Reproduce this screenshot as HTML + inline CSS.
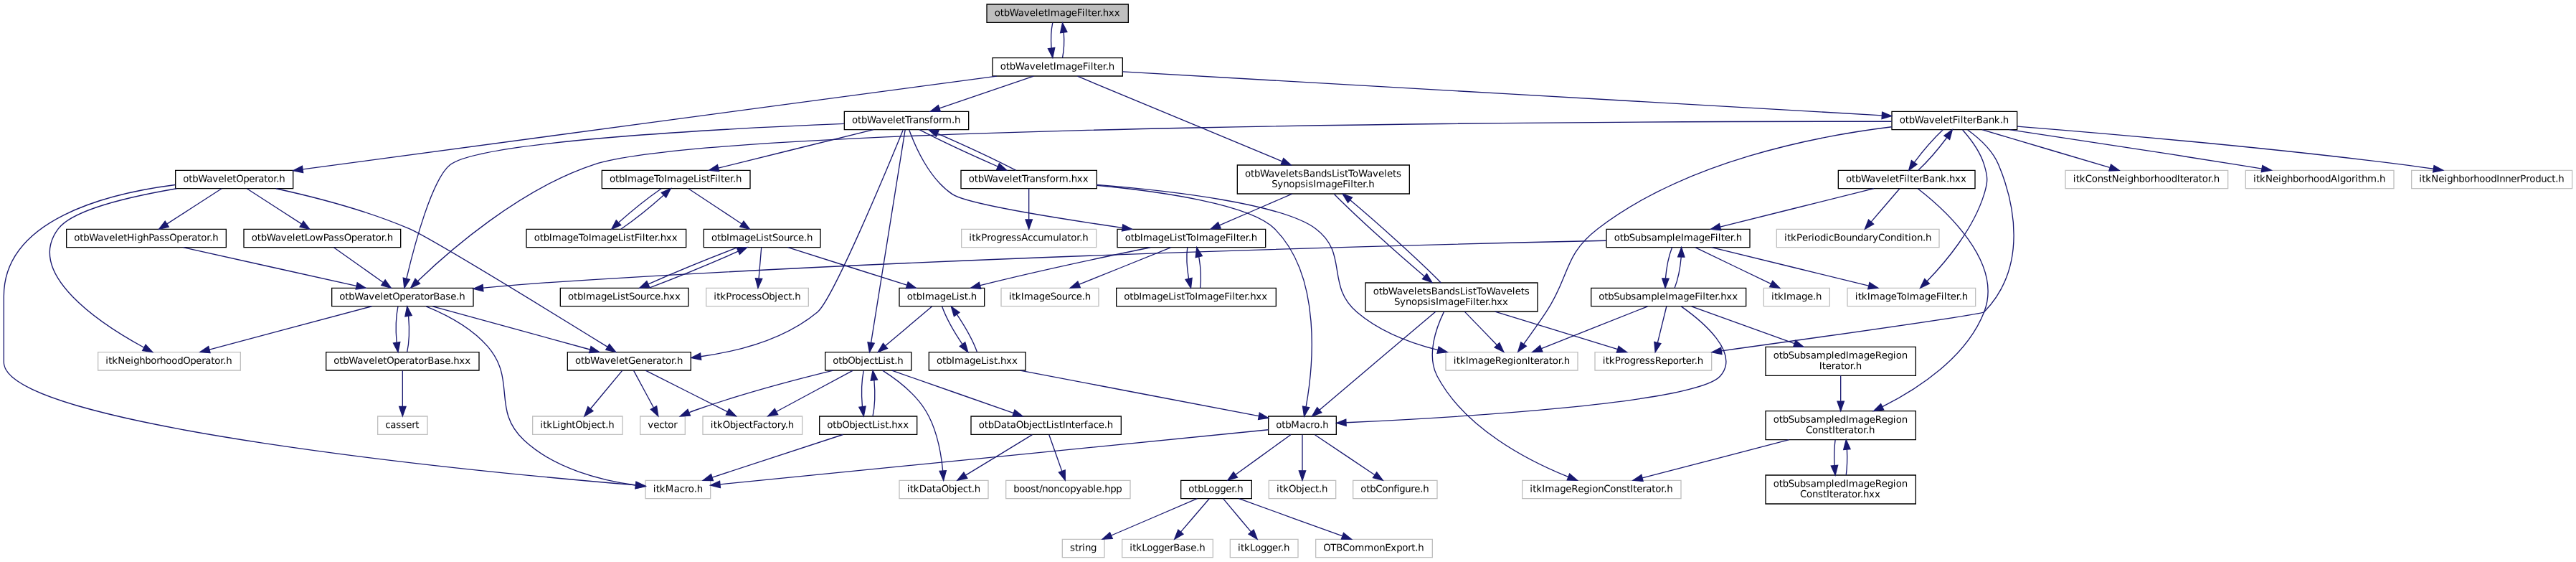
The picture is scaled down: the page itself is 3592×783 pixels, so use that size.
<!DOCTYPE html>
<html lang="en">
<head>
<meta charset="utf-8">
<title>otbWaveletImageFilter.hxx include dependency graph</title>
<style>
html,body{margin:0;padding:0;background:#fff;}
body{width:3592px;height:783px;overflow:hidden;}
svg{display:block;}
svg text{font-family:"DejaVu Sans","Liberation Sans",sans-serif;font-size:10px;fill:#000;text-rendering:geometricPrecision;}
svg{will-change:transform;}
</style>
</head>
<body>
<svg width="3592" height="783" viewBox="0 0 2694 587.25">
<g id="graph0" class="graph" transform="scale(1 1) rotate(0) translate(4 583)">
<polygon fill="white" stroke="none" points="-4,4 -4,-583 2690,-583 2690,4 -4,4"/>
<g id="node1" class="node">
<polygon fill="#bfbfbf" stroke="black" points="1028,-559.5 1028,-578.5 1176,-578.5 1176,-559.5 1028,-559.5"/>
<text transform="rotate(0.03 1098.62 -566.35)" y="-566.35" x="1036 1042 1045.75 1051.75 1060.75 1066.75 1072.75 1078.75 1081.75 1087.75 1091.5 1094.5 1104.25 1110.25 1116.25 1122.25 1127.5 1130.5 1133.5 1137.25 1143.25 1146.25 1149.25 1155.25 1161.25">otbWaveletImageFilter.hxx</text>
</g>
<g id="node2" class="node">
<polygon fill="white" stroke="black" points="1034,-503.5 1034,-522.5 1170,-522.5 1170,-503.5 1034,-503.5"/>
<text transform="rotate(0.03 1098.62 -510.35)" y="-510.35" x="1042 1048 1051.75 1057.75 1066.75 1072.75 1078.75 1084.75 1087.75 1093.75 1097.5 1100.5 1110.25 1116.25 1122.25 1128.25 1133.5 1136.5 1139.5 1143.25 1149.25 1152.25 1155.25">otbWaveletImageFilter.h</text>
</g>
<g id="edge1" class="edge">
<path fill="none" stroke="midnightblue" d="M1096.83,-559.08C1095.32,-551.93 1094.89,-541.64 1095.54,-532.69"/>
<polygon fill="midnightblue" stroke="midnightblue" points="1099.02,-533.13 1096.87,-522.75 1092.08,-532.2 1099.02,-533.13"/>
</g>
<g id="edge96" class="edge">
<path fill="none" stroke="midnightblue" d="M1107.13,-522.75C1108.66,-529.86 1109.1,-540.14 1108.47,-549.1"/>
<polygon fill="midnightblue" stroke="midnightblue" points="1104.99,-548.71 1107.17,-559.08 1111.93,-549.62 1104.99,-548.71"/>
</g>
<g id="node3" class="node">
<polygon fill="white" stroke="black" points="179.5,-386 179.5,-405 302.5,-405 302.5,-386 179.5,-386"/>
<text transform="rotate(0.03 237.75 -392.85)" y="-392.85" x="187.5 193.5 197.25 203.25 212.25 218.25 224.25 230.25 233.25 239.25 243 250.5 256.5 262.5 266.25 272.25 276 282 285 288">otbWaveletOperator.h</text>
</g>
<g id="edge2" class="edge">
<path fill="none" stroke="midnightblue" d="M1038.34,-503.46C881.53,-482.43 477.48,-428.22 312.63,-406.11"/>
<polygon fill="midnightblue" stroke="midnightblue" points="312.97,-402.62 302.6,-404.76 312.04,-409.56 312.97,-402.62"/>
</g>
<g id="node15" class="node">
<polygon fill="white" stroke="black" points="1974.5,-447.5 1974.5,-466.5 2105.5,-466.5 2105.5,-447.5 1974.5,-447.5"/>
<text transform="rotate(0.03 2036.5 -454.35)" y="-454.35" x="1982.5 1988.5 1992.25 1998.25 2007.25 2013.25 2019.25 2025.25 2028.25 2034.25 2038 2043.25 2046.25 2049.25 2053 2059 2062.75 2069.5 2075.5 2081.5 2087.5 2090.5">otbWaveletFilterBank.h</text>
</g>
<g id="edge19" class="edge">
<path fill="none" stroke="midnightblue" d="M1170.21,-508.07C1340.91,-498.25 1785.57,-472.65 1964.14,-462.37"/>
<polygon fill="midnightblue" stroke="midnightblue" points="1964.45,-465.86 1974.24,-461.79 1964.05,-458.87 1964.45,-465.86"/>
</g>
<g id="node39" class="node">
<polygon fill="white" stroke="black" points="879,-447.5 879,-466.5 1009,-466.5 1009,-447.5 879,-447.5"/>
<text transform="rotate(0.03 940.625 -454.35)" y="-454.35" x="887 893 896.75 902.75 911.75 917.75 923.75 929.75 932.75 938.75 942.5 947 950.75 956.75 962.75 968 971.75 977.75 981.5 991.25 994.25">otbWaveletTransform.h</text>
</g>
<g id="edge53" class="edge">
<path fill="none" stroke="midnightblue" d="M1076.96,-503.44C1050.38,-494.36 1008.19,-479.94 978.48,-469.78"/>
<polygon fill="midnightblue" stroke="midnightblue" points="979.51,-466.44 968.92,-466.52 977.25,-473.06 979.51,-466.44"/>
</g>
<g id="node57" class="node">
<polygon fill="white" stroke="black" points="1290,-380.5 1290,-410.5 1470,-410.5 1470,-380.5 1290,-380.5"/>
<text transform="rotate(0.03 1377.12 -398.35)" y="-398.35" x="1298 1304 1307.75 1313.75 1322.75 1328.75 1334.75 1340.75 1343.75 1349.75 1353.5 1358.75 1365.5 1371.5 1377.5 1383.5 1388.75 1394 1397 1402.25 1406 1410.5 1416.5 1425.5 1431.5 1437.5 1443.5 1446.5 1452.5 1456.25">otbWaveletsBandsListToWavelets</text>
<text transform="rotate(0.03 1376.62 -387.35)" y="-387.35" x="1326 1332 1338 1344 1350 1356 1361.25 1364.25 1369.5 1372.5 1382.25 1388.25 1394.25 1400.25 1405.5 1408.5 1411.5 1415.25 1421.25 1424.25 1427.25">SynopsisImageFilter.h</text>
</g>
<g id="edge88" class="edge">
<path fill="none" stroke="midnightblue" d="M1122.9,-503.32C1168.2,-484.49 1276.27,-439.59 1336.89,-414.41"/>
<polygon fill="midnightblue" stroke="midnightblue" points="1338.3,-417.61 1346.19,-410.55 1335.62,-411.15 1338.3,-417.61"/>
</g>
<g id="node4" class="node">
<polygon fill="white" stroke="#bfbfbf" points="671,-62 671,-81 739,-81 739,-62 671,-62"/>
<text transform="rotate(0.03 701.875 -68.85)" y="-68.85" x="679 682 685.75 691.75 700.75 706.75 712 715.75 721.75 724.75">itkMacro.h</text>
</g>
<g id="edge3" class="edge">
<path fill="none" stroke="midnightblue" d="M179.25,-389.86C107.84,-380.73 0,-353.68 0,-273.5 0,-273.5 0,-273.5 0,-204.5 0,-136.94 506.62,-89.07 660.93,-76.05"/>
<polygon fill="midnightblue" stroke="midnightblue" points="661.32,-79.53 671,-75.21 660.74,-72.55 661.32,-79.53"/>
</g>
<g id="node5" class="node">
<polygon fill="white" stroke="#bfbfbf" points="98.5,-196 98.5,-215 247.5,-215 247.5,-196 98.5,-196"/>
<text transform="rotate(0.03 169.5 -202.85)" y="-202.85" x="106.5 109.5 113.25 119.25 126.75 132.75 135.75 141.75 147.75 153.75 159.75 163.5 169.5 175.5 181.5 187.5 195 201 207 210.75 216.75 220.5 226.5 229.5 232.5">itkNeighborhoodOperator.h</text>
</g>
<g id="edge4" class="edge">
<path fill="none" stroke="midnightblue" d="M180.71,-385.94C133.05,-377.79 72.11,-363.82 57,-344 21.02,-296.82 102.33,-243.94 146.66,-219.8"/>
<polygon fill="midnightblue" stroke="midnightblue" points="148.32,-222.89 155.5,-215.1 145.03,-216.7 148.32,-222.89"/>
</g>
<g id="node6" class="node">
<polygon fill="white" stroke="black" points="589.5,-196 589.5,-215 718.5,-215 718.5,-196 589.5,-196"/>
<text transform="rotate(0.03 650.75 -202.85)" y="-202.85" x="597.5 603.5 607.25 613.25 622.25 628.25 634.25 640.25 643.25 649.25 653 660.5 666.5 672.5 678.5 682.25 688.25 692 698 701 704">otbWaveletGenerator.h</text>
</g>
<g id="edge5" class="edge">
<path fill="none" stroke="midnightblue" d="M284.63,-385.94C322.43,-377.71 378.09,-363.63 424,-344 445.69,-334.73 577.38,-253.84 631.16,-220.63"/>
<polygon fill="midnightblue" stroke="midnightblue" points="633.29,-223.43 639.96,-215.19 629.61,-217.47 633.29,-223.43"/>
</g>
<g id="node10" class="node">
<polygon fill="white" stroke="black" points="251,-324.5 251,-343.5 415,-343.5 415,-324.5 251,-324.5"/>
<text transform="rotate(0.03 329.875 -331.35)" y="-331.35" x="259 265 268.75 274.75 283.75 289.75 295.75 301.75 304.75 310.75 314.5 319.75 325.75 334 339.25 345.25 350.5 355.75 363.25 369.25 375.25 379 385 388.75 394.75 397.75 400.75">otbWaveletLowPassOperator.h</text>
</g>
<g id="edge9" class="edge">
<path fill="none" stroke="midnightblue" d="M254.18,-385.98C269.07,-376.34 293.54,-360.52 311.27,-349.05"/>
<polygon fill="midnightblue" stroke="midnightblue" points="313.35,-351.88 319.84,-343.51 309.55,-346 313.35,-351.88"/>
</g>
<g id="node14" class="node">
<polygon fill="white" stroke="black" points="65.5,-324.5 65.5,-343.5 232.5,-343.5 232.5,-324.5 65.5,-324.5"/>
<text transform="rotate(0.03 145.875 -331.35)" y="-331.35" x="73.5 79.5 83.25 89.25 98.25 104.25 110.25 116.25 119.25 125.25 129 136.5 139.5 145.5 151.5 156.75 162.75 168 173.25 180.75 186.75 192.75 196.5 202.5 206.25 212.25 215.25 218.25">otbWaveletHighPassOperator.h</text>
</g>
<g id="edge17" class="edge">
<path fill="none" stroke="midnightblue" d="M227.82,-385.98C212.93,-376.34 188.46,-360.52 170.73,-349.05"/>
<polygon fill="midnightblue" stroke="midnightblue" points="172.45,-346 162.16,-343.51 168.65,-351.88 172.45,-346"/>
</g>
<g id="node7" class="node">
<polygon fill="white" stroke="#bfbfbf" points="553,-129 553,-148 647,-148 647,-129 553,-129"/>
<text transform="rotate(0.03 596.625 -135.85)" y="-135.85" x="561 564 567.75 573.75 579 582 588 594 597.75 605.25 611.25 614.25 620.25 625.5 629.25 632.25">itkLightObject.h</text>
</g>
<g id="edge6" class="edge">
<path fill="none" stroke="midnightblue" d="M646.72,-195.73C638.3,-185.6 624.25,-168.69 613.75,-156.06"/>
<polygon fill="midnightblue" stroke="midnightblue" points="616.25,-153.58 607.17,-148.13 610.87,-158.06 616.25,-153.58"/>
</g>
<g id="node8" class="node">
<polygon fill="white" stroke="#bfbfbf" points="665.5,-129 665.5,-148 712.5,-148 712.5,-129 665.5,-129"/>
<text transform="rotate(0.03 687 -135.85)" y="-135.85" x="673.5 679.5 685.5 690.75 694.5 700.5">vector</text>
</g>
<g id="edge7" class="edge">
<path fill="none" stroke="midnightblue" d="M658.72,-195.73C664.02,-185.89 672.76,-169.66 679.49,-157.16"/>
<polygon fill="midnightblue" stroke="midnightblue" points="682.7,-158.59 684.35,-148.13 676.53,-155.27 682.7,-158.59"/>
</g>
<g id="node9" class="node">
<polygon fill="white" stroke="#bfbfbf" points="731,-129 731,-148 835,-148 835,-129 731,-129"/>
<text transform="rotate(0.03 779.5 -135.85)" y="-135.85" x="739 742 745.75 751.75 759.25 765.25 768.25 774.25 779.5 783.25 787.75 793.75 799 802.75 808.75 812.5 817 820">itkObjectFactory.h</text>
</g>
<g id="edge8" class="edge">
<path fill="none" stroke="midnightblue" d="M671.13,-195.87C693.01,-184.84 731.09,-165.66 756.67,-152.77"/>
<polygon fill="midnightblue" stroke="midnightblue" points="758.44,-155.79 765.8,-148.17 755.29,-149.54 758.44,-155.79"/>
</g>
<g id="node11" class="node">
<polygon fill="white" stroke="black" points="343,-263 343,-282 491,-282 491,-263 343,-263"/>
<text transform="rotate(0.03 413.625 -269.85)" y="-269.85" x="351 357 360.75 366.75 375.75 381.75 387.75 393.75 396.75 402.75 406.5 414 420 426 429.75 435.75 439.5 445.5 449.25 456 462 467.25 473.25 476.25">otbWaveletOperatorBase.h</text>
</g>
<g id="edge10" class="edge">
<path fill="none" stroke="midnightblue" d="M345.04,-324.48C358.51,-314.93 380.57,-299.31 396.72,-287.87"/>
<polygon fill="midnightblue" stroke="midnightblue" points="398.85,-290.65 404.99,-282.01 394.8,-284.93 398.85,-290.65"/>
</g>
<g id="edge11" class="edge">
<path fill="none" stroke="midnightblue" d="M441.58,-262.91C461.39,-254.86 488.7,-241.03 506,-221 536.53,-185.64 509.9,-154.93 544,-123 575.82,-93.21 625.05,-80.99 660.7,-75.98"/>
<polygon fill="midnightblue" stroke="midnightblue" points="661.34,-79.42 670.83,-74.69 660.47,-72.48 661.34,-79.42"/>
</g>
<g id="edge12" class="edge">
<path fill="none" stroke="midnightblue" d="M384.85,-262.94C341.24,-251.32 263.25,-230.54 215.03,-217.7"/>
<polygon fill="midnightblue" stroke="midnightblue" points="215.78,-214.28 205.22,-215.08 213.98,-221.04 215.78,-214.28"/>
</g>
<g id="edge13" class="edge">
<path fill="none" stroke="midnightblue" d="M448.47,-262.87C490.82,-251.25 566.22,-230.58 612.97,-217.75"/>
<polygon fill="midnightblue" stroke="midnightblue" points="614.06,-221.08 622.78,-215.06 612.21,-214.33 614.06,-221.08"/>
</g>
<g id="node12" class="node">
<polygon fill="white" stroke="black" points="337,-196 337,-215 497,-215 497,-196 337,-196"/>
<text transform="rotate(0.03 413.625 -202.85)" y="-202.85" x="345 351 354.75 360.75 369.75 375.75 381.75 387.75 390.75 396.75 400.5 408 414 420 423.75 429.75 433.5 439.5 443.25 450 456 461.25 467.25 470.25 476.25 482.25">otbWaveletOperatorBase.hxx</text>
</g>
<g id="edge14" class="edge">
<path fill="none" stroke="midnightblue" d="M412.21,-262.73C410.2,-253.18 409.74,-237.62 410.82,-225.28"/>
<polygon fill="midnightblue" stroke="midnightblue" points="414.32,-225.52 412.24,-215.13 407.38,-224.54 414.32,-225.52"/>
</g>
<g id="edge15" class="edge">
<path fill="none" stroke="midnightblue" d="M421.76,-215.13C423.78,-224.62 424.26,-240.17 423.2,-252.54"/>
<polygon fill="midnightblue" stroke="midnightblue" points="419.69,-252.35 421.79,-262.73 426.63,-253.31 419.69,-252.35"/>
</g>
<g id="node13" class="node">
<polygon fill="white" stroke="#bfbfbf" points="391,-129 391,-148 443,-148 443,-129 391,-129"/>
<text transform="rotate(0.03 414.75 -135.85)" y="-135.85" x="399 404.25 410.25 415.5 420.75 426.75 430.5">cassert</text>
</g>
<g id="edge16" class="edge">
<path fill="none" stroke="midnightblue" d="M417,-195.73C417,-186.18 417,-170.62 417,-158.28"/>
<polygon fill="midnightblue" stroke="midnightblue" points="420.5,-158.13 417,-148.13 413.5,-158.13 420.5,-158.13"/>
</g>
<g id="edge18" class="edge">
<path fill="none" stroke="midnightblue" d="M187.4,-324.48C235.16,-313.87 316.74,-295.76 368.7,-284.22"/>
<polygon fill="midnightblue" stroke="midnightblue" points="369.67,-287.59 378.67,-282.01 368.15,-280.76 369.67,-287.59"/>
</g>
<g id="edge26" class="edge">
<path fill="none" stroke="midnightblue" d="M1974.31,-456.09C1711.89,-456.17 746.69,-453.54 617,-411 539.45,-385.56 464.76,-319.91 432.99,-289.45"/>
<polygon fill="midnightblue" stroke="midnightblue" points="435.14,-286.66 425.54,-282.18 430.26,-291.67 435.14,-286.66"/>
</g>
<g id="node16" class="node">
<polygon fill="white" stroke="#bfbfbf" points="1664,-196 1664,-215 1786,-215 1786,-196 1664,-196"/>
<text transform="rotate(0.03 1721.5 -202.85)" y="-202.85" x="1672 1675 1678.75 1684.75 1690.75 1694.5 1700.5 1706.5 1710.25 1716.25 1721.5 1726.75 1733.5 1739.5 1745.5 1751.5 1755.25 1759 1765 1768 1771">itkProgressReporter.h</text>
</g>
<g id="edge20" class="edge">
<path fill="none" stroke="midnightblue" d="M2053.79,-447.19C2064.83,-439.24 2079.5,-426.45 2086,-411 2102.91,-370.81 2116.91,-304.01 2071,-257 2068.6,-254.55 1897.03,-230.37 1796.42,-216.38"/>
<polygon fill="midnightblue" stroke="midnightblue" points="1796.7,-212.89 1786.32,-214.98 1795.74,-219.82 1796.7,-212.89"/>
</g>
<g id="node17" class="node">
<polygon fill="white" stroke="#bfbfbf" points="1928,-263 1928,-282 2062,-282 2062,-263 1928,-263"/>
<text transform="rotate(0.03 1991.88 -269.85)" y="-269.85" x="1936 1939 1942.75 1948.75 1951.75 1961.5 1967.5 1973.5 1979.5 1984 1990 1993 2002.75 2008.75 2014.75 2020.75 2026 2029 2032 2035.75 2041.75 2044.75 2047.75">itkImageToImageFilter.h</text>
</g>
<g id="edge21" class="edge">
<path fill="none" stroke="midnightblue" d="M2048.48,-447.23C2056.05,-438.75 2066.6,-425.13 2071,-411 2075.09,-397.84 2075.05,-393.17 2071,-380 2059.73,-343.33 2030.26,-308.7 2011.5,-289.37"/>
<polygon fill="midnightblue" stroke="midnightblue" points="2013.75,-286.66 2004.2,-282.06 2008.79,-291.61 2013.75,-286.66"/>
</g>
<g id="node18" class="node">
<polygon fill="white" stroke="#bfbfbf" points="2156,-386 2156,-405 2326,-405 2326,-386 2156,-386"/>
<text transform="rotate(0.03 2237.5 -392.85)" y="-392.85" x="2164 2167 2170.75 2176.75 2183.5 2189.5 2195.5 2200.75 2204.5 2212 2218 2221 2227 2233 2239 2245 2248.75 2254.75 2260.75 2266.75 2272.75 2275.75 2279.5 2285.5 2289.25 2295.25 2299 2305 2308 2311">itkConstNeighborhoodIterator.h</text>
</g>
<g id="edge22" class="edge">
<path fill="none" stroke="midnightblue" d="M2068.8,-447.48C2103.87,-437.09 2163.26,-419.51 2202.31,-407.95"/>
<polygon fill="midnightblue" stroke="midnightblue" points="2203.66,-411.2 2212.26,-405.01 2201.67,-404.49 2203.66,-411.2"/>
</g>
<g id="node19" class="node">
<polygon fill="white" stroke="#bfbfbf" points="2344.5,-386 2344.5,-405 2499.5,-405 2499.5,-386 2344.5,-386"/>
<text transform="rotate(0.03 2418.5 -392.85)" y="-392.85" x="2352.5 2355.5 2359.25 2365.25 2372.75 2378.75 2381.75 2387.75 2393.75 2399.75 2405.75 2409.5 2415.5 2421.5 2427.5 2433.5 2440.25 2443.25 2449.25 2455.25 2459 2462 2465.75 2471.75 2481.5 2484.5">itkNeighborhoodAlgorithm.h</text>
</g>
<g id="edge23" class="edge">
<path fill="none" stroke="midnightblue" d="M2097.42,-447.48C2156.89,-438.6 2252.5,-424.17 2335,-411 2343.57,-409.63 2352.61,-408.16 2361.49,-406.7"/>
<polygon fill="midnightblue" stroke="midnightblue" points="2362.12,-410.14 2371.41,-405.05 2360.98,-403.23 2362.12,-410.14"/>
</g>
<g id="node20" class="node">
<polygon fill="white" stroke="#bfbfbf" points="2518,-386 2518,-405 2686,-405 2686,-386 2518,-386"/>
<text transform="rotate(0.03 2598.75 -392.85)" y="-392.85" x="2526 2529 2532.75 2538.75 2546.25 2552.25 2555.25 2561.25 2567.25 2573.25 2579.25 2583 2589 2595 2601 2607 2610 2616 2622 2628 2631.75 2637.75 2641.5 2647.5 2653.5 2659.5 2664.75 2668.5 2671.5">itkNeighborhoodInnerProduct.h</text>
</g>
<g id="edge24" class="edge">
<path fill="none" stroke="midnightblue" d="M2105.77,-450.92C2196.62,-443.63 2365.55,-429.05 2509,-411 2519.32,-409.7 2530.26,-408.15 2540.87,-406.56"/>
<polygon fill="midnightblue" stroke="midnightblue" points="2541.56,-409.99 2550.91,-405.02 2540.5,-403.07 2541.56,-409.99"/>
</g>
<g id="node21" class="node">
<polygon fill="white" stroke="#bfbfbf" points="1508,-196 1508,-215 1646,-215 1646,-196 1508,-196"/>
<text transform="rotate(0.03 1573.75 -202.85)" y="-202.85" x="1516 1519 1522.75 1528.75 1531.75 1541.5 1547.5 1553.5 1559.5 1566.25 1572.25 1578.25 1581.25 1587.25 1593.25 1596.25 1600 1606 1609.75 1615.75 1619.5 1625.5 1628.5 1631.5">itkImageRegionIterator.h</text>
</g>
<g id="edge25" class="edge">
<path fill="none" stroke="midnightblue" d="M1974.3,-450.41C1894.38,-440.65 1758.8,-414.29 1667,-344 1630.87,-316.33 1638.22,-294.88 1613,-257 1605.49,-245.73 1596.67,-233.34 1589.64,-223.65"/>
<polygon fill="midnightblue" stroke="midnightblue" points="1592.27,-221.33 1583.55,-215.32 1586.62,-225.46 1592.27,-221.33"/>
</g>
<g id="node22" class="node">
<polygon fill="white" stroke="black" points="1918.5,-386 1918.5,-405 2061.5,-405 2061.5,-386 1918.5,-386"/>
<text transform="rotate(0.03 1986.5 -392.85)" y="-392.85" x="1926.5 1932.5 1936.25 1942.25 1951.25 1957.25 1963.25 1969.25 1972.25 1978.25 1982 1987.25 1990.25 1993.25 1997 2003 2006.75 2013.5 2019.5 2025.5 2031.5 2034.5 2040.5 2046.5">otbWaveletFilterBank.hxx</text>
</g>
<g id="edge27" class="edge">
<path fill="none" stroke="midnightblue" d="M2027.94,-447.48C2018.58,-438.64 2006.36,-424.59 1998.1,-413.48"/>
<polygon fill="midnightblue" stroke="midnightblue" points="2000.82,-411.25 1992.25,-405.01 1995.06,-415.23 2000.82,-411.25"/>
</g>
<g id="edge28" class="edge">
<path fill="none" stroke="midnightblue" d="M2002.05,-405.01C2011.4,-413.84 2023.63,-427.89 2031.88,-439.01"/>
<polygon fill="midnightblue" stroke="midnightblue" points="2029.17,-441.24 2037.74,-447.48 2034.93,-437.26 2029.17,-441.24"/>
</g>
<g id="node23" class="node">
<polygon fill="white" stroke="black" points="1676,-324.5 1676,-343.5 1826,-343.5 1826,-324.5 1676,-324.5"/>
<text transform="rotate(0.03 1747.75 -331.35)" y="-331.35" x="1684 1690 1693.75 1699.75 1705.75 1711.75 1717.75 1723 1729 1738.75 1744.75 1747.75 1753.75 1756.75 1766.5 1772.5 1778.5 1784.5 1789.75 1792.75 1795.75 1799.5 1805.5 1808.5 1811.5">otbSubsampleImageFilter.h</text>
</g>
<g id="edge29" class="edge">
<path fill="none" stroke="midnightblue" d="M1955.76,-385.98C1913.43,-375.44 1841.32,-357.49 1794.95,-345.94"/>
<polygon fill="midnightblue" stroke="midnightblue" points="1795.73,-342.53 1785.18,-343.51 1794.04,-349.32 1795.73,-342.53"/>
</g>
<g id="node35" class="node">
<polygon fill="white" stroke="black" points="1842.5,-123.5 1842.5,-153.5 1999.5,-153.5 1999.5,-123.5 1842.5,-123.5"/>
<text transform="rotate(0.03 1917.62 -141.35)" y="-141.35" x="1850.5 1856.5 1860.25 1866.25 1872.25 1878.25 1884.25 1889.5 1895.5 1905.25 1911.25 1914.25 1920.25 1926.25 1929.25 1939 1945 1951 1957 1963.75 1969.75 1975.75 1978.75 1984.75">otbSubsampledImageRegion</text>
<text transform="rotate(0.03 1917.5 -130.35)" y="-130.35" x="1884.5 1891.25 1897.25 1903.25 1908.5 1912.25 1915.25 1919 1925 1928.75 1934.75 1938.5 1944.5 1947.5 1950.5">ConstIterator.h</text>
</g>
<g id="edge51" class="edge">
<path fill="none" stroke="midnightblue" d="M2001.62,-385.99C2028.56,-365.14 2091.51,-309.37 2071,-257 2052.43,-209.58 2001.94,-176.7 1964.65,-158.02"/>
<polygon fill="midnightblue" stroke="midnightblue" points="1966,-154.79 1955.48,-153.58 1962.95,-161.09 1966,-154.79"/>
</g>
<g id="node38" class="node">
<polygon fill="white" stroke="#bfbfbf" points="1854,-324.5 1854,-343.5 2024,-343.5 2024,-324.5 1854,-324.5"/>
<text transform="rotate(0.03 1935.88 -331.35)" y="-331.35" x="1862 1865 1868.75 1874.75 1880.75 1886.75 1890.5 1893.5 1899.5 1905.5 1908.5 1913.75 1920.5 1926.5 1932.5 1938.5 1944.5 1950.5 1954.25 1960.25 1967 1973 1979 1985 1988 1991.75 1994.75 2000.75 2006.75 2009.75">itkPeriodicBoundaryCondition.h</text>
</g>
<g id="edge52" class="edge">
<path fill="none" stroke="midnightblue" d="M1982.69,-385.98C1974.97,-376.96 1962.59,-362.52 1952.98,-351.31"/>
<polygon fill="midnightblue" stroke="midnightblue" points="1955.46,-348.82 1946.29,-343.51 1950.14,-353.38 1955.46,-348.82"/>
</g>
<g id="edge32" class="edge">
<path fill="none" stroke="midnightblue" d="M1675.82,-331.55C1489.07,-327.64 989.11,-315.27 573,-288 549.71,-286.47 524.51,-284.34 501.29,-282.18"/>
<polygon fill="midnightblue" stroke="midnightblue" points="501.41,-278.68 491.13,-281.22 500.76,-285.65 501.41,-278.68"/>
</g>
<g id="edge30" class="edge">
<path fill="none" stroke="midnightblue" d="M1785.96,-324.48C1829.17,-313.94 1902.79,-295.99 1950.13,-284.44"/>
<polygon fill="midnightblue" stroke="midnightblue" points="1951.22,-287.78 1960.11,-282.01 1949.56,-280.98 1951.22,-287.78"/>
</g>
<g id="node24" class="node">
<polygon fill="white" stroke="#bfbfbf" points="1840.5,-263 1840.5,-282 1909.5,-282 1909.5,-263 1840.5,-263"/>
<text transform="rotate(0.03 1871.75 -269.85)" y="-269.85" x="1848.5 1851.5 1855.25 1861.25 1864.25 1874 1880 1886 1892 1895">itkImage.h</text>
</g>
<g id="edge31" class="edge">
<path fill="none" stroke="midnightblue" d="M1768.77,-324.48C1789.48,-314.53 1823.95,-297.99 1847.99,-286.46"/>
<polygon fill="midnightblue" stroke="midnightblue" points="1849.77,-289.49 1857.27,-282.01 1846.74,-283.18 1849.77,-289.49"/>
</g>
<g id="node25" class="node">
<polygon fill="white" stroke="black" points="1660,-263 1660,-282 1822,-282 1822,-263 1660,-263"/>
<text transform="rotate(0.03 1737.75 -269.85)" y="-269.85" x="1668 1674 1677.75 1683.75 1689.75 1695.75 1701.75 1707 1713 1722.75 1728.75 1731.75 1737.75 1740.75 1750.5 1756.5 1762.5 1768.5 1773.75 1776.75 1779.75 1783.5 1789.5 1792.5 1795.5 1801.5 1807.5">otbSubsampleImageFilter.hxx</text>
</g>
<g id="edge33" class="edge">
<path fill="none" stroke="midnightblue" d="M1744.67,-324.48C1741.42,-316.08 1738.75,-302.98 1737.82,-292.16"/>
<polygon fill="midnightblue" stroke="midnightblue" points="1741.32,-291.91 1737.53,-282.01 1734.32,-292.1 1741.32,-291.91"/>
</g>
<g id="edge50" class="edge">
<path fill="none" stroke="midnightblue" d="M1738.84,-262.73C1736.47,-253.09 1732.58,-237.3 1729.53,-224.91"/>
<polygon fill="midnightblue" stroke="midnightblue" points="1732.91,-224 1727.12,-215.13 1726.12,-225.67 1732.91,-224"/>
</g>
<g id="edge49" class="edge">
<path fill="none" stroke="midnightblue" d="M1719.22,-262.87C1690.72,-251.57 1640.57,-231.7 1608.08,-218.82"/>
<polygon fill="midnightblue" stroke="midnightblue" points="1609.19,-215.49 1598.61,-215.06 1606.61,-222 1609.19,-215.49"/>
</g>
<g id="edge34" class="edge">
<path fill="none" stroke="midnightblue" d="M1747.33,-282.01C1750.57,-290.4 1753.24,-303.5 1754.18,-314.32"/>
<polygon fill="midnightblue" stroke="midnightblue" points="1750.68,-314.58 1754.47,-324.48 1757.68,-314.38 1750.68,-314.58"/>
</g>
<g id="node26" class="node">
<polygon fill="white" stroke="black" points="1322.5,-129 1322.5,-148 1393.5,-148 1393.5,-129 1322.5,-129"/>
<text transform="rotate(0.03 1354.88 -135.85)" y="-135.85" x="1330.5 1336.5 1340.25 1346.25 1355.25 1361.25 1366.5 1370.25 1376.25 1379.25">otbMacro.h</text>
</g>
<g id="edge35" class="edge">
<path fill="none" stroke="midnightblue" d="M1754.2,-262.84C1776.32,-247.31 1816.45,-214.08 1795,-190 1769.28,-161.13 1510.8,-146.34 1403.9,-141.41"/>
<polygon fill="midnightblue" stroke="midnightblue" points="1403.89,-137.91 1393.74,-140.95 1403.57,-144.9 1403.89,-137.91"/>
</g>
<g id="node34" class="node">
<polygon fill="white" stroke="black" points="1842.5,-190.5 1842.5,-220.5 1999.5,-220.5 1999.5,-190.5 1842.5,-190.5"/>
<text transform="rotate(0.03 1917.62 -208.35)" y="-208.35" x="1850.5 1856.5 1860.25 1866.25 1872.25 1878.25 1884.25 1889.5 1895.5 1905.25 1911.25 1914.25 1920.25 1926.25 1929.25 1939 1945 1951 1957 1963.75 1969.75 1975.75 1978.75 1984.75">otbSubsampledImageRegion</text>
<text transform="rotate(0.03 1917.62 -197.35)" y="-197.35" x="1898.5 1901.5 1905.25 1911.25 1915 1921 1924.75 1930.75 1933.75 1936.75">Iterator.h</text>
</g>
<g id="edge44" class="edge">
<path fill="none" stroke="midnightblue" d="M1764.9,-262.87C1792.26,-252.99 1837.79,-236.55 1872.63,-223.97"/>
<polygon fill="midnightblue" stroke="midnightblue" points="1873.94,-227.22 1882.15,-220.53 1871.56,-220.63 1873.94,-227.22"/>
</g>
<g id="edge36" class="edge">
<path fill="none" stroke="midnightblue" d="M1322.43,-133.96C1211.36,-122.9 871.13,-89.04 749.12,-76.89"/>
<polygon fill="midnightblue" stroke="midnightblue" points="749.32,-73.39 739.02,-75.89 748.63,-80.36 749.32,-73.39"/>
</g>
<g id="node27" class="node">
<polygon fill="white" stroke="#bfbfbf" points="1323,-62 1323,-81 1393,-81 1393,-62 1323,-62"/>
<text transform="rotate(0.03 1354.62 -68.85)" y="-68.85" x="1331 1334 1337.75 1343.75 1351.25 1357.25 1360.25 1366.25 1371.5 1375.25 1378.25">itkObject.h</text>
</g>
<g id="edge37" class="edge">
<path fill="none" stroke="midnightblue" d="M1358,-128.73C1358,-119.18 1358,-103.62 1358,-91.28"/>
<polygon fill="midnightblue" stroke="midnightblue" points="1361.5,-91.13 1358,-81.13 1354.5,-91.13 1361.5,-91.13"/>
</g>
<g id="node28" class="node">
<polygon fill="white" stroke="#bfbfbf" points="1411,-62 1411,-81 1499,-81 1499,-62 1411,-62"/>
<text transform="rotate(0.03 1451.62 -68.85)" y="-68.85"><tspan x="1419 1425 1428.75 1434.75 1441.5 1447.5">otbCon</tspan><tspan x="1453.5">fi</tspan><tspan x="1459.5 1465.5 1471.5 1475.25 1481.25 1484.25">gure.h</tspan></text>
</g>
<g id="edge38" class="edge">
<path fill="none" stroke="midnightblue" d="M1371.08,-128.73C1387.15,-117.96 1414.63,-99.55 1433.75,-86.74"/>
<polygon fill="midnightblue" stroke="midnightblue" points="1435.77,-89.6 1442.13,-81.13 1431.87,-83.79 1435.77,-89.6"/>
</g>
<g id="node29" class="node">
<polygon fill="white" stroke="black" points="1231,-62 1231,-81 1305,-81 1305,-62 1231,-62"/>
<text transform="rotate(0.03 1264.5 -68.85)" y="-68.85" x="1239 1245 1248.75 1254.75 1260 1266 1272 1278 1284 1287 1290">otbLogger.h</text>
</g>
<g id="edge39" class="edge">
<path fill="none" stroke="midnightblue" d="M1345.86,-128.73C1331.15,-118.11 1306.14,-100.05 1288.44,-87.26"/>
<polygon fill="midnightblue" stroke="midnightblue" points="1290.1,-84.14 1279.95,-81.13 1286,-89.82 1290.1,-84.14"/>
</g>
<g id="node30" class="node">
<polygon fill="white" stroke="#bfbfbf" points="1107,-0.5 1107,-19.5 1151,-19.5 1151,-0.5 1107,-0.5"/>
<text transform="rotate(0.03 1125.88 -7.35)" y="-7.35" x="1115 1120.25 1124 1127.75 1130.75 1136.75">string</text>
</g>
<g id="edge40" class="edge">
<path fill="none" stroke="midnightblue" d="M1248.08,-61.98C1224.55,-51.9 1185.19,-35.05 1158.21,-23.5"/>
<polygon fill="midnightblue" stroke="midnightblue" points="1159.45,-20.23 1148.88,-19.51 1156.69,-26.66 1159.45,-20.23"/>
</g>
<g id="node31" class="node">
<polygon fill="white" stroke="#bfbfbf" points="1169.5,-0.5 1169.5,-19.5 1264.5,-19.5 1264.5,-0.5 1169.5,-0.5"/>
<text transform="rotate(0.03 1213.88 -7.35)" y="-7.35" x="1177.5 1180.5 1184.25 1190.25 1195.5 1201.5 1207.5 1213.5 1219.5 1223.25 1230 1236 1241.25 1247.25 1250.25">itkLoggerBase.h</text>
</g>
<g id="edge41" class="edge">
<path fill="none" stroke="midnightblue" d="M1260.69,-61.98C1252.97,-52.96 1240.59,-38.52 1230.98,-27.31"/>
<polygon fill="midnightblue" stroke="midnightblue" points="1233.46,-24.82 1224.29,-19.51 1228.14,-29.38 1233.46,-24.82"/>
</g>
<g id="node32" class="node">
<polygon fill="white" stroke="#bfbfbf" points="1282.5,-0.5 1282.5,-19.5 1353.5,-19.5 1353.5,-0.5 1282.5,-0.5"/>
<text transform="rotate(0.03 1314.5 -7.35)" y="-7.35" x="1290.5 1293.5 1297.25 1303.25 1308.5 1314.5 1320.5 1326.5 1332.5 1335.5 1338.5">itkLogger.h</text>
</g>
<g id="edge42" class="edge">
<path fill="none" stroke="midnightblue" d="M1275.16,-61.98C1282.74,-52.96 1294.87,-38.52 1304.29,-27.31"/>
<polygon fill="midnightblue" stroke="midnightblue" points="1307.1,-29.42 1310.85,-19.51 1301.74,-24.91 1307.1,-29.42"/>
</g>
<g id="node33" class="node">
<polygon fill="white" stroke="#bfbfbf" points="1372,-0.5 1372,-19.5 1494,-19.5 1494,-0.5 1372,-0.5"/>
<text transform="rotate(0.03 1429.5 -7.35)" y="-7.35" x="1380 1387.5 1393.5 1400.25 1407 1413 1422.75 1432.5 1438.5 1444.5 1450.5 1456.5 1462.5 1468.5 1472.25 1476 1479">OTBCommonExport.h</text>
</g>
<g id="edge43" class="edge">
<path fill="none" stroke="midnightblue" d="M1291.64,-61.98C1319.94,-51.77 1367.53,-34.61 1399.59,-23.05"/>
<polygon fill="midnightblue" stroke="midnightblue" points="1401.18,-26.19 1409.4,-19.51 1398.81,-19.61 1401.18,-26.19"/>
</g>
<g id="edge45" class="edge">
<path fill="none" stroke="midnightblue" d="M1921,-190.4C1921,-182.64 1921,-172.81 1921,-163.86"/>
<polygon fill="midnightblue" stroke="midnightblue" points="1924.5,-163.58 1921,-153.58 1917.5,-163.58 1924.5,-163.58"/>
</g>
<g id="node36" class="node">
<polygon fill="white" stroke="#bfbfbf" points="1588,-62 1588,-81 1754,-81 1754,-62 1588,-62"/>
<text transform="rotate(0.03 1667.62 -68.85)" y="-68.85" x="1596 1599 1602.75 1608.75 1611.75 1621.5 1627.5 1633.5 1639.5 1646.25 1652.25 1658.25 1661.25 1667.25 1673.25 1680 1686 1692 1697.25 1701 1704 1707.75 1713.75 1717.5 1723.5 1727.25 1733.25 1736.25 1739.25">itkImageRegionConstIterator.h</text>
</g>
<g id="edge46" class="edge">
<path fill="none" stroke="midnightblue" d="M1867.06,-123.48C1821.08,-111.52 1755.89,-94.57 1713.53,-83.56"/>
<polygon fill="midnightblue" stroke="midnightblue" points="1714.36,-80.16 1703.8,-81.03 1712.6,-86.93 1714.36,-80.16"/>
</g>
<g id="node37" class="node">
<polygon fill="white" stroke="black" points="1842.5,-56.5 1842.5,-86.5 1999.5,-86.5 1999.5,-56.5 1842.5,-56.5"/>
<text transform="rotate(0.03 1917.62 -74.35)" y="-74.35" x="1850.5 1856.5 1860.25 1866.25 1872.25 1878.25 1884.25 1889.5 1895.5 1905.25 1911.25 1914.25 1920.25 1926.25 1929.25 1939 1945 1951 1957 1963.75 1969.75 1975.75 1978.75 1984.75">otbSubsampledImageRegion</text>
<text transform="rotate(0.03 1917.5 -63.35)" y="-63.35" x="1878.5 1885.25 1891.25 1897.25 1902.5 1906.25 1909.25 1913 1919 1922.75 1928.75 1932.5 1938.5 1941.5 1944.5 1950.5 1956.5">ConstIterator.hxx</text>
</g>
<g id="edge47" class="edge">
<path fill="none" stroke="midnightblue" d="M1915.32,-123.4C1914.29,-115.56 1914.01,-105.6 1914.46,-96.57"/>
<polygon fill="midnightblue" stroke="midnightblue" points="1917.95,-96.84 1915.33,-86.58 1910.97,-96.24 1917.95,-96.84"/>
</g>
<g id="edge48" class="edge">
<path fill="none" stroke="midnightblue" d="M1926.67,-86.58C1927.7,-94.41 1927.99,-104.37 1927.55,-113.4"/>
<polygon fill="midnightblue" stroke="midnightblue" points="1924.06,-113.13 1926.68,-123.4 1931.03,-113.74 1924.06,-113.13"/>
</g>
<g id="edge81" class="edge">
<path fill="none" stroke="midnightblue" d="M940.38,-447.12C925.27,-410.24 867.29,-270.51 851,-257 816.92,-228.74 768.97,-216.05 728.91,-210.46"/>
<polygon fill="midnightblue" stroke="midnightblue" points="729.27,-206.97 718.91,-209.18 728.39,-213.92 729.27,-206.97"/>
</g>
<g id="edge82" class="edge">
<path fill="none" stroke="midnightblue" d="M878.76,-453.68C755.73,-448.76 498.88,-435.64 467,-411 447.68,-396.07 429.18,-326.01 421.16,-292.05"/>
<polygon fill="midnightblue" stroke="midnightblue" points="424.51,-291.01 418.86,-282.05 417.69,-292.58 424.51,-291.01"/>
</g>
<g id="node40" class="node">
<polygon fill="white" stroke="black" points="625.5,-386 625.5,-405 780.5,-405 780.5,-386 625.5,-386"/>
<text transform="rotate(0.03 699.5 -392.85)" y="-392.85" x="633.5 639.5 643.25 649.25 652.25 662 668 674 680 684.5 690.5 693.5 703.25 709.25 715.25 721.25 726.5 729.5 734.75 738.5 743.75 746.75 749.75 753.5 759.5 762.5 765.5">otbImageToImageListFilter.h</text>
</g>
<g id="edge54" class="edge">
<path fill="none" stroke="midnightblue" d="M909.47,-447.48C866.79,-436.94 794.08,-418.99 747.32,-407.44"/>
<polygon fill="midnightblue" stroke="midnightblue" points="748.01,-404.01 737.47,-405.01 746.33,-410.8 748.01,-404.01"/>
</g>
<g id="node44" class="node">
<polygon fill="white" stroke="black" points="859,-196 859,-215 949,-215 949,-196 859,-196"/>
<text transform="rotate(0.03 900.75 -202.85)" y="-202.85" x="867 873 876.75 882.75 890.25 896.25 899.25 905.25 910.5 914.25 919.5 922.5 927.75 931.5 934.5">otbObjectList.h</text>
</g>
<g id="edge80" class="edge">
<path fill="none" stroke="midnightblue" d="M942.62,-447.41C936.91,-411.8 915.02,-275.25 906.98,-225.11"/>
<polygon fill="midnightblue" stroke="midnightblue" points="910.41,-224.37 905.37,-215.05 903.5,-225.48 910.41,-224.37"/>
</g>
<g id="node52" class="node">
<polygon fill="white" stroke="black" points="1164.5,-324.5 1164.5,-343.5 1319.5,-343.5 1319.5,-324.5 1164.5,-324.5"/>
<text transform="rotate(0.03 1238.5 -331.35)" y="-331.35" x="1172.5 1178.5 1182.25 1188.25 1191.25 1201 1207 1213 1219 1224.25 1227.25 1232.5 1236.25 1240.75 1246.75 1249.75 1259.5 1265.5 1271.5 1277.5 1282.75 1285.75 1288.75 1292.5 1298.5 1301.5 1304.5">otbImageListToImageFilter.h</text>
</g>
<g id="edge75" class="edge">
<path fill="none" stroke="midnightblue" d="M946.84,-447.26C952.57,-431.12 967.15,-396.74 992,-380 1006.69,-370.11 1101.34,-354.92 1169.84,-344.97"/>
<polygon fill="midnightblue" stroke="midnightblue" points="1170.35,-348.43 1179.75,-343.54 1169.35,-341.5 1170.35,-348.43"/>
</g>
<g id="node55" class="node">
<polygon fill="white" stroke="black" points="1001,-386 1001,-405 1143,-405 1143,-386 1001,-386"/>
<text transform="rotate(0.03 1068.62 -392.85)" y="-392.85" x="1009 1015 1018.75 1024.75 1033.75 1039.75 1045.75 1051.75 1054.75 1060.75 1064.5 1069 1072.75 1078.75 1084.75 1090 1093.75 1099.75 1103.5 1113.25 1116.25 1122.25 1128.25">otbWaveletTransform.hxx</text>
</g>
<g id="edge83" class="edge">
<path fill="none" stroke="midnightblue" d="M957.44,-447.48C976.91,-437.4 1012.92,-420.55 1039.49,-409"/>
<polygon fill="midnightblue" stroke="midnightblue" points="1040.99,-412.17 1048.8,-405.01 1038.23,-405.73 1040.99,-412.17"/>
</g>
<g id="node41" class="node">
<polygon fill="white" stroke="black" points="732,-324.5 732,-343.5 854,-343.5 854,-324.5 732,-324.5"/>
<text transform="rotate(0.03 789.875 -331.35)" y="-331.35" x="740 746 749.75 755.75 758.75 768.5 774.5 780.5 786.5 791.75 794.75 800 803.75 809.75 815.75 821.75 825.5 830.75 836.75 839.75">otbImageListSource.h</text>
</g>
<g id="edge55" class="edge">
<path fill="none" stroke="midnightblue" d="M715.89,-385.98C730.46,-376.34 754.4,-360.52 771.75,-349.05"/>
<polygon fill="midnightblue" stroke="midnightblue" points="773.72,-351.94 780.13,-343.51 769.86,-346.1 773.72,-351.94"/>
</g>
<g id="node51" class="node">
<polygon fill="white" stroke="black" points="546.5,-324.5 546.5,-343.5 713.5,-343.5 713.5,-324.5 546.5,-324.5"/>
<text transform="rotate(0.03 626.5 -331.35)" y="-331.35" x="554.5 560.5 564.25 570.25 573.25 583 589 595 601 605.5 611.5 614.5 624.25 630.25 636.25 642.25 647.5 650.5 655.75 659.5 664.75 667.75 670.75 674.5 680.5 683.5 686.5 692.5 698.5">otbImageToImageListFilter.hxx</text>
</g>
<g id="edge73" class="edge">
<path fill="none" stroke="midnightblue" d="M687.64,-385.98C674.36,-376.78 655.79,-361.96 643.18,-350.66"/>
<polygon fill="midnightblue" stroke="midnightblue" points="645.24,-347.78 635.54,-343.51 640.45,-352.9 645.24,-347.78"/>
</g>
<g id="node42" class="node">
<polygon fill="white" stroke="#bfbfbf" points="734.5,-263 734.5,-282 841.5,-282 841.5,-263 734.5,-263"/>
<text transform="rotate(0.03 784.875 -269.85)" y="-269.85" x="742.5 745.5 749.25 755.25 761.25 765 771 776.25 782.25 787.5 792.75 800.25 806.25 809.25 815.25 820.5 824.25 827.25">itkProcessObject.h</text>
</g>
<g id="edge56" class="edge">
<path fill="none" stroke="midnightblue" d="M792.28,-324.48C791.58,-316.08 790.48,-302.98 789.57,-292.16"/>
<polygon fill="midnightblue" stroke="midnightblue" points="793.04,-291.68 788.72,-282.01 786.06,-292.27 793.04,-291.68"/>
</g>
<g id="node43" class="node">
<polygon fill="white" stroke="black" points="936.5,-263 936.5,-282 1025.5,-282 1025.5,-263 936.5,-263"/>
<text transform="rotate(0.03 977.875 -269.85)" y="-269.85" x="944.5 950.5 954.25 960.25 963.25 973 979 985 991 996.25 999.25 1004.5 1008.25 1011.25">otbImageList.h</text>
</g>
<g id="edge57" class="edge">
<path fill="none" stroke="midnightblue" d="M819.94,-324.48C852.6,-314.14 907.82,-296.66 944.34,-285.1"/>
<polygon fill="midnightblue" stroke="midnightblue" points="945.64,-288.36 954.11,-282.01 943.52,-281.69 945.64,-288.36"/>
</g>
<g id="node50" class="node">
<polygon fill="white" stroke="black" points="582,-263 582,-282 716,-282 716,-263 582,-263"/>
<text transform="rotate(0.03 645.875 -269.85)" y="-269.85" x="590 596 599.75 605.75 608.75 618.5 624.5 630.5 636.5 641.75 644.75 650 653.75 659.75 665.75 671.75 675.5 680.75 686.75 689.75 695.75 701.75">otbImageListSource.hxx</text>
</g>
<g id="edge71" class="edge">
<path fill="none" stroke="midnightblue" d="M767.47,-324.48C741.01,-314.45 700.23,-297.7 673.98,-286.15"/>
<polygon fill="midnightblue" stroke="midnightblue" points="675.25,-282.89 664.7,-282.01 672.4,-289.28 675.25,-282.89"/>
</g>
<g id="edge58" class="edge">
<path fill="none" stroke="midnightblue" d="M970.62,-262.73C958.15,-252.21 937.03,-234.38 921.91,-221.62"/>
<polygon fill="midnightblue" stroke="midnightblue" points="924.12,-218.9 914.22,-215.13 919.6,-224.25 924.12,-218.9"/>
</g>
<g id="node49" class="node">
<polygon fill="white" stroke="black" points="967.5,-196 967.5,-215 1068.5,-215 1068.5,-196 967.5,-196"/>
<text transform="rotate(0.03 1014.88 -202.85)" y="-202.85" x="975.5 981.5 985.25 991.25 994.25 1004 1010 1016 1022 1027.25 1030.25 1035.5 1039.25 1042.25 1048.25 1054.25">otbImageList.hxx</text>
</g>
<g id="edge68" class="edge">
<path fill="none" stroke="midnightblue" d="M981.2,-262.73C984.8,-252.7 993.89,-236.01 1002.36,-223.42"/>
<polygon fill="midnightblue" stroke="midnightblue" points="1005.33,-225.29 1008.33,-215.13 999.65,-221.2 1005.33,-225.29"/>
</g>
<g id="edge59" class="edge">
<path fill="none" stroke="midnightblue" d="M867.26,-195.95C830.16,-186.94 771.42,-171.61 722,-154 720.34,-153.41 718.64,-152.77 716.94,-152.1"/>
<polygon fill="midnightblue" stroke="midnightblue" points="717.89,-148.71 707.31,-148.1 715.2,-155.17 717.89,-148.71"/>
</g>
<g id="edge64" class="edge">
<path fill="none" stroke="midnightblue" d="M887.68,-195.73C867.18,-184.72 831.8,-165.71 807.91,-152.88"/>
<polygon fill="midnightblue" stroke="midnightblue" points="809.53,-149.78 799.06,-148.13 806.21,-155.94 809.53,-149.78"/>
</g>
<g id="node45" class="node">
<polygon fill="white" stroke="#bfbfbf" points="936.5,-62 936.5,-81 1029.5,-81 1029.5,-62 936.5,-62"/>
<text transform="rotate(0.03 979.75 -68.85)" y="-68.85" x="944.5 947.5 951.25 957.25 964.75 970.75 974.5 980.5 988 994 997 1003 1008.25 1012 1015">itkDataObject.h</text>
</g>
<g id="edge60" class="edge">
<path fill="none" stroke="midnightblue" d="M918.97,-195.86C932.79,-187.09 952.83,-172.22 964,-154 975.9,-134.59 980.35,-108.41 982.01,-91.02"/>
<polygon fill="midnightblue" stroke="midnightblue" points="985.51,-91.25 982.75,-81.02 978.52,-90.73 985.51,-91.25"/>
</g>
<g id="node46" class="node">
<polygon fill="white" stroke="black" points="1011.5,-129 1011.5,-148 1168.5,-148 1168.5,-129 1011.5,-129"/>
<text transform="rotate(0.03 1086.62 -135.85)" y="-135.85" x="1019.5 1025.5 1029.25 1035.25 1042.75 1048.75 1052.5 1058.5 1066 1072 1075 1081 1086.25 1090 1095.25 1098.25 1103.5 1107.25 1110.25 1116.25 1120 1126 1129.75 1133.5 1139.5 1144.75 1150.75 1153.75">otbDataObjectListInterface.h</text>
</g>
<g id="edge61" class="edge">
<path fill="none" stroke="midnightblue" d="M928.7,-195.87C961.31,-184.47 1018.88,-164.35 1055.7,-151.49"/>
<polygon fill="midnightblue" stroke="midnightblue" points="1057.21,-154.67 1065.49,-148.06 1054.9,-148.06 1057.21,-154.67"/>
</g>
<g id="node48" class="node">
<polygon fill="white" stroke="black" points="853,-129 853,-148 955,-148 955,-129 853,-129"/>
<text transform="rotate(0.03 900.75 -135.85)" y="-135.85" x="861 867 870.75 876.75 884.25 890.25 893.25 899.25 904.5 908.25 913.5 916.5 921.75 925.5 928.5 934.5 940.5">otbObjectList.hxx</text>
</g>
<g id="edge65" class="edge">
<path fill="none" stroke="midnightblue" d="M899.21,-195.73C897.2,-186.18 896.74,-170.62 897.82,-158.28"/>
<polygon fill="midnightblue" stroke="midnightblue" points="901.32,-158.52 899.24,-148.13 894.38,-157.54 901.32,-158.52"/>
</g>
<g id="edge62" class="edge">
<path fill="none" stroke="midnightblue" d="M1075.57,-128.73C1057.68,-117.87 1026.98,-99.22 1005.87,-86.39"/>
<polygon fill="midnightblue" stroke="midnightblue" points="1007.57,-83.33 997.2,-81.13 1003.93,-89.31 1007.57,-83.33"/>
</g>
<g id="node47" class="node">
<polygon fill="white" stroke="#bfbfbf" points="1048,-62 1048,-81 1178,-81 1178,-62 1048,-62"/>
<text transform="rotate(0.03 1109.62 -68.85)" y="-68.85" x="1056 1062 1068 1074 1079.25 1083 1086 1092 1098 1104 1109.25 1115.25 1121.25 1127.25 1133.25 1139.25 1142.25 1148.25 1151.25 1157.25 1163.25">boost/noncopyable.hpp</text>
</g>
<g id="edge63" class="edge">
<path fill="none" stroke="midnightblue" d="M1093.1,-128.73C1096.52,-119.09 1102.1,-103.3 1106.49,-90.91"/>
<polygon fill="midnightblue" stroke="midnightblue" points="1109.91,-91.72 1109.95,-81.13 1103.31,-89.39 1109.91,-91.72"/>
</g>
<g id="edge67" class="edge">
<path fill="none" stroke="midnightblue" d="M877.57,-128.87C842.46,-117.4 780.3,-97.09 740.94,-84.24"/>
<polygon fill="midnightblue" stroke="midnightblue" points="741.81,-80.84 731.22,-81.06 739.64,-87.5 741.81,-80.84"/>
</g>
<g id="edge66" class="edge">
<path fill="none" stroke="midnightblue" d="M908.76,-148.13C910.78,-157.62 911.26,-173.17 910.2,-185.54"/>
<polygon fill="midnightblue" stroke="midnightblue" points="906.69,-185.35 908.79,-195.73 913.63,-186.31 906.69,-185.35"/>
</g>
<g id="edge70" class="edge">
<path fill="none" stroke="midnightblue" d="M1062.8,-195.94C1127.67,-183.53 1247.12,-160.7 1312.43,-148.21"/>
<polygon fill="midnightblue" stroke="midnightblue" points="1313.26,-151.62 1322.42,-146.3 1311.95,-144.74 1313.26,-151.62"/>
</g>
<g id="edge69" class="edge">
<path fill="none" stroke="midnightblue" d="M1017.85,-215.13C1014.3,-225.1 1005.23,-241.77 996.76,-254.4"/>
<polygon fill="midnightblue" stroke="midnightblue" points="993.77,-252.57 990.78,-262.73 999.45,-256.65 993.77,-252.57"/>
</g>
<g id="edge72" class="edge">
<path fill="none" stroke="midnightblue" d="M674.49,-282.01C700.94,-292.03 741.71,-308.78 767.97,-320.33"/>
<polygon fill="midnightblue" stroke="midnightblue" points="766.71,-323.6 777.27,-324.48 769.56,-317.2 766.71,-323.6"/>
</g>
<g id="edge74" class="edge">
<path fill="none" stroke="midnightblue" d="M645.34,-343.51C658.61,-352.69 677.18,-367.52 689.8,-378.82"/>
<polygon fill="midnightblue" stroke="midnightblue" points="687.75,-381.7 697.44,-385.98 692.53,-376.59 687.75,-381.7"/>
</g>
<g id="edge77" class="edge">
<path fill="none" stroke="midnightblue" d="M1199.22,-324.45C1157.06,-315.86 1090.88,-301.92 1034,-288 1029.83,-286.98 1025.49,-285.87 1021.16,-284.73"/>
<polygon fill="midnightblue" stroke="midnightblue" points="1021.76,-281.27 1011.2,-282.06 1019.95,-288.03 1021.76,-281.27"/>
</g>
<g id="node53" class="node">
<polygon fill="white" stroke="#bfbfbf" points="1043,-263 1043,-282 1145,-282 1145,-263 1043,-263"/>
<text transform="rotate(0.03 1090.75 -269.85)" y="-269.85" x="1051 1054 1057.75 1063.75 1066.75 1076.5 1082.5 1088.5 1094.5 1100.5 1106.5 1112.5 1116.25 1121.5 1127.5 1130.5">itkImageSource.h</text>
</g>
<g id="edge76" class="edge">
<path fill="none" stroke="midnightblue" d="M1220.8,-324.48C1195.63,-314.36 1153.46,-297.4 1124.72,-285.85"/>
<polygon fill="midnightblue" stroke="midnightblue" points="1125.75,-282.49 1115.17,-282.01 1123.14,-288.99 1125.75,-282.49"/>
</g>
<g id="node54" class="node">
<polygon fill="white" stroke="black" points="1163.5,-263 1163.5,-282 1330.5,-282 1330.5,-263 1163.5,-263"/>
<text transform="rotate(0.03 1243.5 -269.85)" y="-269.85" x="1171.5 1177.5 1181.25 1187.25 1190.25 1200 1206 1212 1218 1223.25 1226.25 1231.5 1235.25 1239.75 1245.75 1248.75 1258.5 1264.5 1270.5 1276.5 1281.75 1284.75 1287.75 1291.5 1297.5 1300.5 1303.5 1309.5 1315.5">otbImageListToImageFilter.hxx</text>
</g>
<g id="edge78" class="edge">
<path fill="none" stroke="midnightblue" d="M1237.82,-324.48C1236.68,-315.99 1237.33,-302.7 1239.17,-291.82"/>
<polygon fill="midnightblue" stroke="midnightblue" points="1242.6,-292.53 1241.39,-282.01 1235.77,-290.99 1242.6,-292.53"/>
</g>
<g id="edge79" class="edge">
<path fill="none" stroke="midnightblue" d="M1251.18,-282.01C1252.32,-290.49 1251.67,-303.77 1249.83,-314.66"/>
<polygon fill="midnightblue" stroke="midnightblue" points="1246.4,-313.95 1247.62,-324.48 1253.23,-315.49 1246.4,-313.95"/>
</g>
<g id="edge85" class="edge">
<path fill="none" stroke="midnightblue" d="M1143.08,-389.95C1220.07,-383.74 1336.66,-370.27 1372,-344 1406.61,-318.27 1382.21,-285.02 1415,-257 1438.75,-236.71 1470.61,-224.57 1499.79,-217.3"/>
<polygon fill="midnightblue" stroke="midnightblue" points="1500.63,-220.7 1509.57,-215.02 1499.04,-213.88 1500.63,-220.7"/>
</g>
<g id="edge87" class="edge">
<path fill="none" stroke="midnightblue" d="M1143.09,-389.31C1209.9,-382.94 1303.36,-369.64 1329,-344 1379.42,-293.58 1369.01,-198.11 1361.85,-157.99"/>
<polygon fill="midnightblue" stroke="midnightblue" points="1365.26,-157.18 1359.93,-148.03 1358.38,-158.51 1365.26,-157.18"/>
</g>
<g id="edge84" class="edge">
<path fill="none" stroke="midnightblue" d="M1058.59,-405.01C1039.14,-415.08 1003.13,-431.92 976.56,-443.48"/>
<polygon fill="midnightblue" stroke="midnightblue" points="975.05,-440.32 967.24,-447.48 977.81,-446.75 975.05,-440.32"/>
</g>
<g id="node56" class="node">
<polygon fill="white" stroke="#bfbfbf" points="1001.5,-324.5 1001.5,-343.5 1142.5,-343.5 1142.5,-324.5 1001.5,-324.5"/>
<text transform="rotate(0.03 1068.75 -331.35)" y="-331.35" x="1009.5 1012.5 1016.25 1022.25 1028.25 1032 1038 1044 1047.75 1053.75 1059 1064.25 1071 1076.25 1081.5 1087.5 1097.25 1103.25 1106.25 1112.25 1116 1122 1125 1128">itkProgressAccumulator.h</text>
</g>
<g id="edge86" class="edge">
<path fill="none" stroke="midnightblue" d="M1072,-385.98C1072,-377.58 1072,-364.48 1072,-353.66"/>
<polygon fill="midnightblue" stroke="midnightblue" points="1075.5,-353.51 1072,-343.51 1068.5,-353.51 1075.5,-353.51"/>
</g>
<g id="edge89" class="edge">
<path fill="none" stroke="midnightblue" d="M1347.3,-380.4C1324.25,-370.46 1293.64,-357.26 1271.37,-347.66"/>
<polygon fill="midnightblue" stroke="midnightblue" points="1272.65,-344.4 1262.08,-343.66 1269.88,-350.83 1272.65,-344.4"/>
</g>
<g id="node58" class="node">
<polygon fill="white" stroke="black" points="1424,-257.5 1424,-287.5 1604,-287.5 1604,-257.5 1424,-257.5"/>
<text transform="rotate(0.03 1511.12 -275.35)" y="-275.35" x="1432 1438 1441.75 1447.75 1456.75 1462.75 1468.75 1474.75 1477.75 1483.75 1487.5 1492.75 1499.5 1505.5 1511.5 1517.5 1522.75 1528 1531 1536.25 1540 1544.5 1550.5 1559.5 1565.5 1571.5 1577.5 1580.5 1586.5 1590.25">otbWaveletsBandsListToWavelets</text>
<text transform="rotate(0.03 1510.62 -264.35)" y="-264.35" x="1454 1460 1466 1472 1478 1484 1489.25 1492.25 1497.5 1500.5 1510.25 1516.25 1522.25 1528.25 1533.5 1536.5 1539.5 1543.25 1549.25 1552.25 1555.25 1561.25 1567.25">SynopsisImageFilter.hxx</text>
</g>
<g id="edge90" class="edge">
<path fill="none" stroke="midnightblue" d="M1391.34,-380.14C1412.24,-358.86 1456.36,-318.81 1485.72,-294.31"/>
<polygon fill="midnightblue" stroke="midnightblue" points="1488.08,-296.9 1493.57,-287.84 1483.63,-291.49 1488.08,-296.9"/>
</g>
<g id="edge94" class="edge">
<path fill="none" stroke="midnightblue" d="M1559.52,-257.48C1597.84,-245.67 1651.96,-229 1687.74,-217.98"/>
<polygon fill="midnightblue" stroke="midnightblue" points="1688.79,-221.32 1697.31,-215.03 1686.73,-214.63 1688.79,-221.32"/>
</g>
<g id="edge92" class="edge">
<path fill="none" stroke="midnightblue" d="M1527.67,-257.4C1537.59,-247.16 1551.03,-233.3 1561.37,-222.62"/>
<polygon fill="midnightblue" stroke="midnightblue" points="1564.13,-224.81 1568.57,-215.19 1559.1,-219.94 1564.13,-224.81"/>
</g>
<g id="edge95" class="edge">
<path fill="none" stroke="midnightblue" d="M1497.31,-257.37C1467.7,-232.33 1406.28,-180.35 1375.87,-154.62"/>
<polygon fill="midnightblue" stroke="midnightblue" points="1378.06,-151.88 1368.16,-148.1 1373.53,-157.23 1378.06,-151.88"/>
</g>
<g id="edge93" class="edge">
<path fill="none" stroke="midnightblue" d="M1506.19,-257.41C1497.94,-240.47 1487.58,-211.63 1499,-190 1527.84,-135.37 1594.76,-101.34 1636.11,-84.73"/>
<polygon fill="midnightblue" stroke="midnightblue" points="1637.48,-87.95 1645.53,-81.07 1634.94,-81.43 1637.48,-87.95"/>
</g>
<g id="edge91" class="edge">
<path fill="none" stroke="midnightblue" d="M1502.98,-287.53C1482.16,-308.78 1437.55,-349.28 1408.05,-373.89"/>
<polygon fill="midnightblue" stroke="midnightblue" points="1405.66,-371.33 1400.16,-380.38 1410.1,-376.73 1405.66,-371.33"/>
</g>
</g>
</svg>
</body>
</html>
